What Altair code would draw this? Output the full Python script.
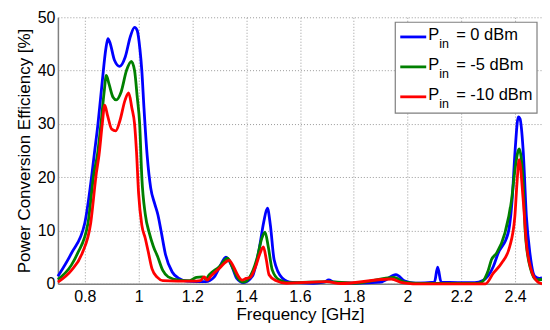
import altair as alt
import pandas as pd

# ---- data ----
blue_f = [0.70, 0.75, 0.80, 0.827, 0.835, 0.849, 0.865, 0.878, 0.886, 0.895, 0.91, 0.93, 0.95, 0.97, 0.985, 0.995,
          1.005, 1.012, 1.02, 1.032, 1.045, 1.06, 1.072, 1.084, 1.10, 1.125, 1.15, 1.18, 1.25, 1.28, 1.30, 1.325,
          1.345, 1.365, 1.39, 1.423, 1.448, 1.465, 1.479, 1.49, 1.504, 1.534, 1.571, 1.65, 1.69, 1.707, 1.725,
          1.8, 1.9, 1.957, 1.99, 2.03, 2.10, 2.112, 2.125, 2.25, 2.28, 2.30, 2.319, 2.337, 2.374, 2.389, 2.40,
          2.412, 2.418, 2.43, 2.442, 2.455, 2.473, 2.49, 2.50]
blue_v = [1.4, 5.7, 11.4, 20.8, 24.2, 30, 38, 44, 46.0, 45, 42, 40.8, 42.5, 46.5, 48.1, 47.5,
          44, 40, 33, 24, 18, 15, 12.9, 9.8, 5.5, 2.2, 1.0, 0.5, 0.4, 1.2, 3.0, 5.0,
          3.5, 1.0, 0.2, 1.4, 6.4, 11.5, 14.2, 11, 4.5, 1.1, 0.25, 0.1, 0.3, 0.75, 0.3,
          0.1, 0.3, 1.7, 0.5, 0.1, 0.3, 3.1, 0.3, 0.2, 0.6, 1.5, 3.25, 5.75, 9.5, 15.8, 25,
          31.3, 31.0, 25, 12.6, 5.75, 1.4, 1.0, 1.2]

green_f = [0.70, 0.75, 0.773, 0.812, 0.834, 0.847, 0.86, 0.872, 0.880, 0.89, 0.905, 0.917, 0.935, 0.955, 0.973,
           0.985, 0.995, 1.004, 1.012, 1.025, 1.04, 1.055, 1.07, 1.09, 1.11, 1.15, 1.19, 1.215, 1.237, 1.25,
           1.263, 1.30, 1.331, 1.35, 1.37, 1.39, 1.41, 1.44, 1.458, 1.47, 1.482, 1.497, 1.522, 1.56, 1.707,
           1.8, 1.95, 1.99, 2.05, 2.25, 2.275, 2.30, 2.312, 2.331, 2.362, 2.387, 2.401, 2.415, 2.43, 2.438,
           2.455, 2.479, 2.50]
green_v = [0.8, 3.5, 5.7, 11.4, 20.8, 24.2, 30, 36, 39.1, 37.5, 35, 34.5, 36, 40, 41.7,
           40, 35, 30, 20, 13, 9.5, 7, 5.2, 2.5, 1.3, 0.7, 0.6, 1.2, 1.3, 0.9,
           1.7, 3.2, 4.8, 3.0, 1.0, 0.3, 1.0, 4.7, 8.5, 9.7, 7, 2.6, 0.75, 0.2, 0.4,
           0.1, 1.2, 0.3, 0.05, 0.05, 0.3, 2.5, 4.5, 5.75, 9.5, 15.8, 22, 25.3, 18.9, 9.5,
           3.25, 0.75, 0.8]

red_f = [0.70, 0.75, 0.79, 0.822, 0.843, 0.853, 0.865, 0.874, 0.885, 0.90, 0.915, 0.93, 0.95, 0.963, 0.975,
         0.985, 0.992, 1.0, 1.012, 1.025, 1.036, 1.05, 1.07, 1.09, 1.2, 1.23, 1.244, 1.255, 1.27, 1.30,
         1.337, 1.355, 1.37, 1.385, 1.40, 1.415, 1.435, 1.45, 1.464, 1.475, 1.485, 1.51, 1.55, 1.70, 1.75,
         1.94, 1.98, 2.02, 2.29, 2.319, 2.35, 2.38, 2.399, 2.407, 2.415, 2.43, 2.442, 2.46, 2.485, 2.50]
red_v = [0.3, 2.5, 5.7, 11.4, 20.8, 24.2, 30, 33.5, 31.5, 29, 28.7, 30.5, 34.5, 35.8, 33,
         30, 25, 17, 11, 8.5, 6, 2.8, 1.2, 0.6, 0.5, 0.6, 1.3, 0.7, 1.5, 2.9,
         4.4, 3, 1.5, 0.7, 1.0, 1.2, 3.2, 5.5, 6.9, 4.5, 1.7, 0.6, 0.1, 0.4, 0.05,
         0.9, 0.2, 0.0, 0.0, 2, 3.9, 7, 12.6, 18.9, 23.3, 15.8, 7.6, 2.6, 0.3, 0.0]

series_names = ["0 dBm", "-5 dBm", "-10 dBm"]
series_colors = ["#0000FF", "#008000", "#FF0000"]
x_ticks = [0.8, 1.0, 1.2, 1.4, 1.6, 1.8, 2.0, 2.2, 2.4]
y_ticks = [0, 10, 20, 30, 40, 50]

rows = []
for name, fs, vs in zip(series_names, [blue_f, green_f, red_f], [blue_v, green_v, red_v]):
    for i, (f, v) in enumerate(zip(fs, vs)):
        rows.append({"series": name, "f": f, "v": v, "i": i})
df = pd.DataFrame(rows)

FONT = "Liberation Sans"

x_enc = alt.X("f:Q", scale=alt.Scale(domain=[0.7, 2.5], nice=False, zero=False),
              axis=alt.Axis(values=x_ticks, format="~g", title="Frequency [GHz]"))
y_enc = alt.Y("v:Q", scale=alt.Scale(domain=[0, 50], nice=False),
              axis=alt.Axis(values=y_ticks, title="Power Conversion Efficiency [%]"))

layers = []
for name, col in zip(series_names, series_colors):
    layers.append(
        alt.Chart(df).transform_filter(alt.datum.series == name)
        .mark_line(color=col, strokeWidth=2.8, interpolate="monotone")
        .encode(x=x_enc, y=y_enc, order="i:Q")
    )

# custom legend (MATLAB-style box with subscripts)
one = pd.DataFrame({"k": [0]})
layers.append(
    alt.Chart(one).mark_rect(fill="white", stroke="#7f7f7f", strokeWidth=1.2)
    .encode(x=alt.value(338), x2=alt.value(480), y=alt.value(5), y2=alt.value(96))
)
for k, (name, col) in enumerate(zip(series_names, series_colors)):
    yc = 19.7 + 30 * k
    layers.append(
        alt.Chart(one).mark_rule(color=col, strokeWidth=2.8)
        .encode(x=alt.value(343), x2=alt.value(369), y=alt.value(yc))
    )
    layers.append(
        alt.Chart(one).mark_text(align="left", baseline="alphabetic", fontSize=16.5, font=FONT, color="black")
        .encode(x=alt.value(371), y=alt.value(yc + 3.5), text=alt.value("P"))
    )
    layers.append(
        alt.Chart(one).mark_text(align="left", baseline="alphabetic", fontSize=12.5, font=FONT, color="black")
        .encode(x=alt.value(382), y=alt.value(yc + 11.5), text=alt.value("in"))
    )
    layers.append(
        alt.Chart(one).mark_text(align="left", baseline="alphabetic", fontSize=16.5, font=FONT, color="black")
        .encode(x=alt.value(399), y=alt.value(yc + 3.5), text=alt.value("= " + name))
    )

chart = alt.layer(*layers).properties(
    width=485, height=267,
    autosize=alt.AutoSizeParams(type="none"),
    padding={"left": 50, "top": 9, "right": 0, "bottom": 40},
).configure_view(stroke=None).configure_axis(
    labelFont=FONT, titleFont=FONT, labelFontSize=16, titleFontSize=17,
    labelColor="black", titleColor="black", titleFontWeight="normal",
    grid=True, gridColor="#9a9a9a", gridDash=[1, 2], gridWidth=1,
    domainColor="#808080", domainWidth=1.5, ticks=False,
).configure_axisX(labelPadding=5, titlePadding=2).configure_axisY(labelPadding=3, titlePadding=4)

chart.save("out.html", embed_options={"renderer": "svg", "actions": False})
